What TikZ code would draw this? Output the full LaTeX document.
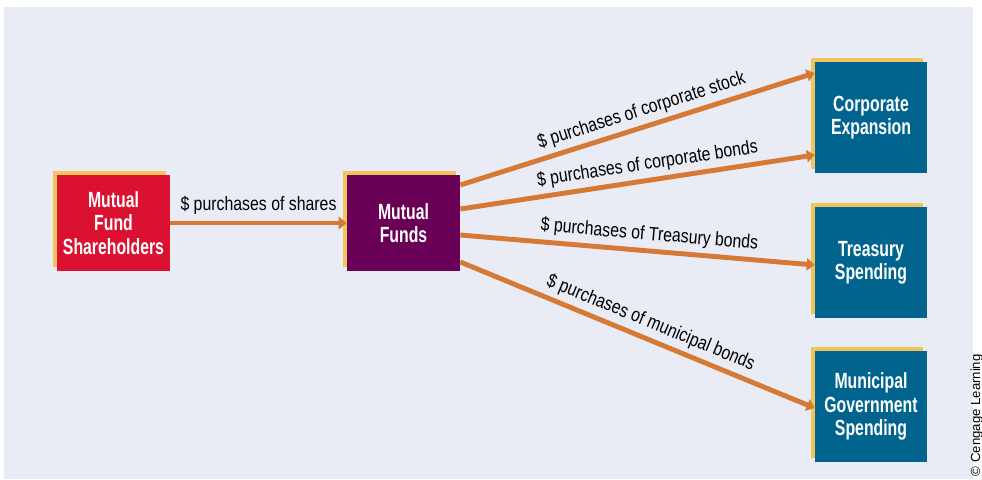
\documentclass[tikz,border=0pt]{standalone}
\usepackage{fontspec}
\usepackage{xcolor}
\usepackage{tikz}
\usetikzlibrary{positioning,calc,arrows.meta}

\newfontfamily\condfont[FakeStretch=0.82]{Liberation Sans}
\newfontfamily\boxfont[FakeStretch=0.72]{Liberation Sans}
\newfontfamily\notefont{Liberation Sans}

\definecolor{bgpanel}{RGB}{233,236,245}
\definecolor{boxgold}{RGB}{242,196,92}
\definecolor{holderred}{RGB}{218,17,48}
\definecolor{fundpurple}{RGB}{106,0,85}
\definecolor{usesblue}{RGB}{0,100,142}
\definecolor{floworange}{RGB}{214,121,52}

\tikzset{
    box/.style={minimum width=2.26cm, minimum height=1.92cm, inner sep=0pt,
        text=white, align=center, font=\boxfont\bfseries\fontsize{12.5}{13.2}\selectfont,
        preaction={fill=boxgold, transform canvas={shift={(-0.08,0.08)}}}},
    usebox/.style={box, fill=usesblue, minimum width=2.24cm, minimum height=2.22cm},
    flow/.style={draw=floworange, line width=2.8pt, -{Triangle[length=4.5pt,width=7pt]}},
    lbl/.style={font=\condfont\fontsize{11}{12}\selectfont, text=black, inner sep=2.5pt}
}

\begin{document}
\begin{tikzpicture}
    \useasboundingbox (0,0) rectangle (19.64,9.58);
    \fill[bgpanel] (0.08,0) rectangle (19.46,9.44);

    % boxes
    \node[box, fill=holderred] (holders) at (2.27,5.12) {Mutual\\Fund\\Shareholders};
    \node[box, fill=fundpurple] (funds) at (8.07,5.12) {Mutual\\Funds};
    \node[usebox] (corp) at (17.42,7.22) {Corporate\\Expansion};
    \node[usebox] (treas) at (17.42,4.33) {Treasury\\Spending};
    \node[usebox] (muni) at (17.42,1.45) {Municipal\\Government\\Spending};

    % flows
    \draw[flow] (holders.east) -- (funds.west) node[lbl, midway, above=1pt] {\$ purchases of shares};
    \draw[flow] ([yshift=0.76cm]funds.east) -- ([yshift=0.9cm]corp.west)
        node[lbl, pos=0.525, sloped, above] {\$ purchases of corporate stock};
    \draw[flow] ([yshift=0.28cm]funds.east) -- ([yshift=-0.74cm]corp.west)
        node[lbl, pos=0.535, sloped, above] {\$ purchases of corporate bonds};
    \draw[flow] ([yshift=-0.24cm]funds.east) -- ([yshift=-0.05cm]treas.west)
        node[lbl, pos=0.53, sloped, above] {\$ purchases of Treasury bonds};
    \draw[flow] ([yshift=-0.78cm]funds.east) -- ([yshift=-0.03cm]muni.west)
        node[lbl, pos=0.52, sloped, above] {\$ purchases of municipal bonds};

    \node[font=\notefont\fontsize{7.5}{8}\selectfont, rotate=90, anchor=base west, inner sep=0pt] (credit) at (19.6,0.05) {© Cengage Learning};
\end{tikzpicture}
\end{document}
